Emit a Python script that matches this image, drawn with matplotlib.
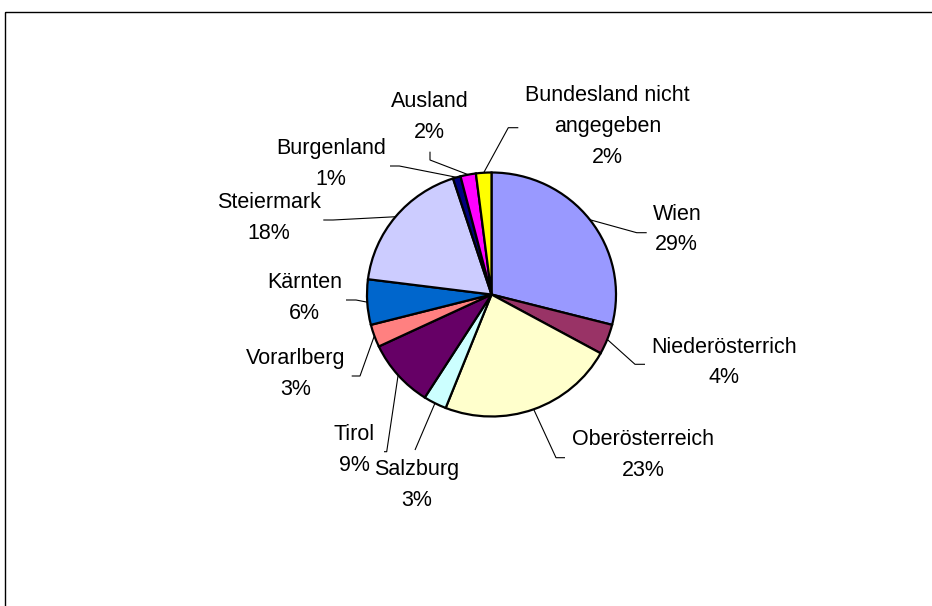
import numpy as np
import matplotlib
matplotlib.use("Agg")
import matplotlib.pyplot as plt
from matplotlib.patches import Rectangle

# share of respondents per federal state (percent), clockwise from 12 o'clock
regions = ["Wien", "Niederösterrich", "Oberösterreich", "Salzburg", "Tirol",
           "Vorarlberg", "Kärnten", "Steiermark", "Burgenland", "Ausland",
           "Bundesland nicht\nangegeben"]
shares = [29, 4, 23, 3, 9, 3, 6, 18, 1, 2, 2]
colors = ["#9999FF", "#993366", "#FFFFCC", "#CCFFFF", "#660066", "#FF8080",
          "#0066CC", "#CCCCFF", "#000080", "#FF00FF", "#FFFF00"]

W, H = 932, 606
CX, CY, RX, RY = 491.5, 294.5, 124.5, 122.0

# label centres and leader-line elbows (canvas pixels, origin top left)
label_pos = [(676.8, 229.5), (724.0, 362.5), (643.3, 455.0), (416.7, 485.0),
             (354.0, 450.3), (296.0, 374.3), (304.5, 298.0), (269.0, 218.0),
             (331.0, 164.3), (429.8, 116.7), (607.5, 126.7)]
leader_elbow = [((636.7, 232.7), (646.7, 232.7)), ((635.0, 364.3), (645.0, 364.3)),
                ((556.0, 457.7), (565.0, 457.7)), ((415.0, 450.0), (415.0, 450.0)),
                ((386.7, 451.7), (384.0, 451.7)), ((360.0, 376.0), (351.7, 376.0)),
                ((356.0, 300.0), (346.0, 300.0)), ((333.0, 220.0), (323.3, 220.0)),
                ((399.3, 166.0), (390.0, 166.0)), ((430.0, 160.0), (430.0, 151.7)),
                ((508.3, 127.7), (518.3, 127.7))]

plt.rcParams["font.family"] = ["Liberation Sans", "DejaVu Sans"]

fig = plt.figure(figsize=(W / 100, H / 100), dpi=100)
fig.patch.set_facecolor("white")

canvas = fig.add_axes([0, 0, 1, 1])
canvas.set_xlim(0, W)
canvas.set_ylim(H, 0)
canvas.axis("off")

# chart frame, running off the right and bottom edge
canvas.add_patch(Rectangle((5, 12), W + 20, H + 20, fill=False,
                           edgecolor="black", linewidth=1.0, clip_on=False))

pax = fig.add_axes([(CX - RX) / W, 1 - (CY + RY) / H, 2 * RX / W, 2 * RY / H])
wedges, _ = pax.pie(shares, colors=colors, startangle=90, counterclock=False,
                    radius=1.0, wedgeprops=dict(edgecolor="black", linewidth=1.6))
for w in wedges:
    w.set_clip_on(False)
pax.set_xlim(-1, 1)
pax.set_ylim(-1, 1)
pax.set_aspect("auto")
pax.axis("off")

total = float(sum(shares))
cum = np.cumsum([0] + shares[:-1])
for i, name in enumerate(regions):
    mid = (cum[i] + shares[i] / 2) / total
    theta = np.deg2rad(90 - 360 * mid)
    ex, ey = CX + RX * np.cos(theta), CY - RY * np.sin(theta)
    (bx, by), (tx, ty) = leader_elbow[i]
    canvas.plot([ex, bx, tx], [ey, by, ty], color="black", lw=0.8,
                solid_capstyle="butt")
    lx, ly = label_pos[i]
    canvas.text(lx, ly, f"{name}\n{shares[i]}%", ha="center", va="center",
                multialignment="center", fontsize=15.5, linespacing=1.62,
                color="black")

fig.savefig("out.png", dpi=100, facecolor="white")
